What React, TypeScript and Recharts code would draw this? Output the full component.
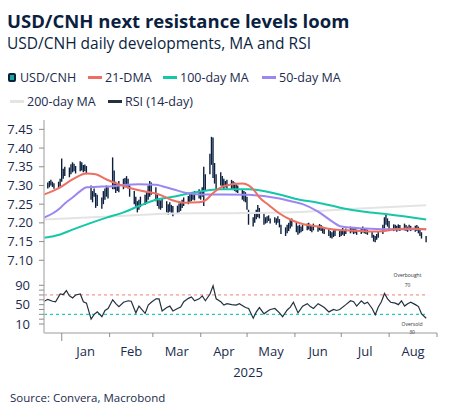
import React from 'react';
import { ComposedChart, Bar, Line, XAxis, YAxis, ReferenceLine } from 'recharts';

// days are counted from 1 Jan 2025 (day 0)
const firstTradingDay = -12;

// daily USD/CNH low / high, one row per week (Mon..Fri)
const priceLow = [
  7.296,
  7.292, 7.295, 7.300, 7.296, 7.291,
  7.293, 7.298, 7.310, 7.318, 7.325,
  7.322, 7.330, 7.335, 7.338, 7.332,
  7.338, 7.340, 7.335, 7.338, 7.330,
  7.262, 7.255, 7.270, 7.240, 7.245,
  7.238, 7.250, 7.262, 7.270, 7.265,
  7.290, 7.290, 7.280, 7.285, 7.282,
  7.290, 7.295, 7.300, 7.292, 7.270,
  7.250, 7.240, 7.228, 7.235, 7.242,
  7.248, 7.255, 7.262, 7.270, 7.275,
  7.258, 7.245, 7.238, 7.235, 7.240,
  7.228, 7.222, 7.230, 7.225, 7.218,
  7.225, 7.228, 7.232, 7.240, 7.245,
  7.250, 7.255, 7.258, 7.262, 7.260,
  7.265, 7.262, 7.270, 7.245, 7.285,
  7.330, 7.355, 7.320, 7.305, 7.290,
  7.300, 7.295, 7.290, 7.295, 7.292,
  7.290, 7.288, 7.285, 7.282, 7.280,
  7.262, 7.258, 7.255, 7.235, 7.195,
  7.190, 7.200, 7.210, 7.215, 7.212,
  7.195, 7.198, 7.200, 7.205, 7.198,
  7.200, 7.195, 7.200, 7.188, 7.170,
  7.165, 7.172, 7.178, 7.185, 7.190,
  7.175, 7.168, 7.172, 7.175, 7.178,
  7.180, 7.182, 7.178, 7.175, 7.180,
  7.176, 7.180, 7.178, 7.172, 7.170,
  7.165, 7.160, 7.158, 7.162, 7.165,
  7.162, 7.165, 7.168, 7.165, 7.170,
  7.172, 7.175, 7.170, 7.172, 7.168,
  7.170, 7.174, 7.172, 7.170, 7.168,
  7.160, 7.150, 7.148, 7.155, 7.160,
  7.170, 7.185, 7.195, 7.190, 7.180,
  7.178, 7.180, 7.176, 7.180, 7.178,
  7.180, 7.178, 7.176, 7.180, 7.178,
  7.176, 7.178, 7.172, 7.165, 7.158,
  7.148,
];
const priceHigh = [
  7.312,
  7.308, 7.312, 7.315, 7.310, 7.306,
  7.310, 7.318, 7.372, 7.345, 7.350,
  7.348, 7.357, 7.362, 7.358, 7.352,
  7.365, 7.362, 7.355, 7.356, 7.352,
  7.300, 7.285, 7.292, 7.280, 7.275,
  7.268, 7.285, 7.292, 7.300, 7.295,
  7.375, 7.340, 7.310, 7.305, 7.312,
  7.318, 7.320, 7.325, 7.318, 7.300,
  7.285, 7.270, 7.258, 7.262, 7.270,
  7.275, 7.282, 7.300, 7.312, 7.308,
  7.295, 7.275, 7.262, 7.260, 7.265,
  7.258, 7.250, 7.255, 7.248, 7.245,
  7.246, 7.252, 7.255, 7.262, 7.268,
  7.272, 7.278, 7.280, 7.282, 7.285,
  7.290, 7.285, 7.295, 7.350, 7.330,
  7.385, 7.430, 7.428, 7.360, 7.330,
  7.335, 7.325, 7.318, 7.312, 7.315,
  7.315, 7.312, 7.308, 7.305, 7.300,
  7.290, 7.285, 7.282, 7.270, 7.235,
  7.215, 7.228, 7.235, 7.248, 7.240,
  7.225, 7.215, 7.218, 7.220, 7.212,
  7.215, 7.212, 7.218, 7.210, 7.195,
  7.188, 7.195, 7.200, 7.210, 7.212,
  7.200, 7.192, 7.195, 7.190, 7.195,
  7.198, 7.200, 7.195, 7.192, 7.198,
  7.192, 7.197, 7.194, 7.190, 7.186,
  7.185, 7.178, 7.175, 7.180, 7.182,
  7.178, 7.182, 7.186, 7.180, 7.185,
  7.190, 7.188, 7.185, 7.187, 7.182,
  7.186, 7.190, 7.186, 7.184, 7.182,
  7.178, 7.168, 7.165, 7.170, 7.178,
  7.195, 7.215, 7.225, 7.212, 7.205,
  7.196, 7.195, 7.192, 7.196, 7.194,
  7.198, 7.194, 7.190, 7.195, 7.192,
  7.192, 7.194, 7.190, 7.185, 7.175,
  7.165,
];

const ma21Days = [-12, -6, -1, 7, 16, 22, 29, 37, 47, 55, 63, 72, 79, 89, 93, 98, 104, 110, 117, 121, 125, 128, 134, 141, 149, 156, 166, 175, 184, 195, 205, 215, 225, 236];
const ma21 = [7.275, 7.285, 7.295, 7.316, 7.332, 7.330, 7.316, 7.303, 7.290, 7.283, 7.276, 7.260, 7.254, 7.255, 7.260, 7.280, 7.297, 7.303, 7.305, 7.300, 7.285, 7.268, 7.248, 7.225, 7.207, 7.197, 7.190, 7.183, 7.180, 7.178, 7.177, 7.182, 7.185, 7.183];

const ma50Days = [-12, -6, -1, 2, 7, 12, 16, 26, 33, 42, 50, 61, 65, 72, 82, 89, 103, 121, 141, 149, 156, 166, 175, 181, 196, 210, 236];
const ma50 = [7.213, 7.225, 7.240, 7.252, 7.268, 7.285, 7.295, 7.297, 7.298, 7.302, 7.303, 7.302, 7.298, 7.290, 7.279, 7.276, 7.276, 7.275, 7.265, 7.257, 7.250, 7.230, 7.204, 7.190, 7.185, 7.183, 7.183];

const ma100Days = [-12, -1, 7, 19, 29, 40, 50, 61, 72, 83, 103, 121, 141, 154, 166, 181, 196, 211, 236];
const ma100 = [7.160, 7.169, 7.182, 7.200, 7.214, 7.228, 7.245, 7.262, 7.270, 7.279, 7.290, 7.290, 7.276, 7.262, 7.254, 7.240, 7.230, 7.223, 7.209];

const ma200Days = [-12, 20, 50, 72, 110, 154, 190, 236];
const ma200 = [7.209, 7.215, 7.221, 7.225, 7.226, 7.229, 7.238, 7.247];

const rsiDays = [-12, -9, -6, -4, -1, 1, 3, 5, 7, 9, 12, 14, 16, 19, 21, 23, 26, 28, 30, 33, 35, 37, 40, 43, 45, 48, 50, 54, 56, 58, 61, 63, 65, 68, 70, 72, 75, 77, 79, 82, 84, 86, 89, 91, 93, 96, 98, 100, 103, 105, 107, 110, 113, 115, 119, 121, 124, 126, 128, 131, 133, 135, 138, 141, 143, 146, 148, 150, 153, 156, 159, 161, 163, 166, 168, 170, 173, 176, 178, 180, 184, 187, 189, 191, 194, 196, 198, 201, 203, 205, 207, 209, 211, 213, 216, 218, 220, 222, 224, 226, 229, 231, 233, 236];
const rsi = [56, 61, 57, 56, 72, 71, 79, 68, 64, 70, 72, 56, 53, 20, 30, 35, 25, 38, 42, 60, 52, 46, 55, 58, 57, 33, 47, 32, 49, 55, 62, 62, 37, 44, 47, 37, 42, 45, 56, 63, 66, 58, 62, 68, 58, 72, 89, 62, 56, 49, 52, 50, 49, 52, 44, 42, 22, 35, 44, 31, 36, 40, 42, 33, 25, 39, 45, 55, 33, 47, 52, 46, 42, 52, 48, 44, 35, 40, 38, 40, 50, 58, 56, 47, 58, 52, 55, 42, 29, 45, 56, 73, 62, 55, 53, 50, 58, 47, 52, 55, 50, 46, 31, 22];

const monthTicks = [0, 31, 59, 90, 120, 151, 181, 212, 243];
const monthLabels = ['Jan', 'Feb', 'Mar', 'Apr', 'May', 'Jun', 'Jul', 'Aug'];
const priceTicks = [7.1, 7.15, 7.2, 7.25, 7.3, 7.35, 7.4, 7.45];
const rsiTicks = [10, 20, 30, 40, 50, 60, 70, 80, 90];
const rsiLabelled = [10, 50, 90];

const X_DOMAIN: [number, number] = [-11.5, 243];
const PLOT_W = 393;
const PX_PER_DAY = PLOT_W / (X_DOMAIN[1] - X_DOMAIN[0]);

const FONT = '"Open Sans", sans-serif';
const NAVY = '#0b1f3f';
const TEXT = '#1b2b4d';
const AXIS = '#bdbdbd';
const C21 = '#ee6f60';
const C100 = '#14c7a8';
const C50 = '#9c86f2';
const C200 = '#e4e4e4';
const CRSI = '#23303f';

const tradingDays: number[] = [];
for (let d = firstTradingDay; tradingDays.length < priceLow.length; d++) {
  const w = ((d % 7) + 7) % 7;
  if (w !== 3 && w !== 4) tradingDays.push(d);
}

const priceRows: any[] = tradingDays.map((d, i) => ({ d, range: [priceLow[i], priceHigh[i]] }));
const addSeries = (days: number[], values: number[], key: string) => {
  days.forEach((d, i) => {
    const row = priceRows.find((r) => r.d === d);
    if (row) row[key] = values[i];
  });
};
addSeries(ma21Days, ma21, 'ma21');
addSeries(ma50Days, ma50, 'ma50');
addSeries(ma100Days, ma100, 'ma100');
addSeries(ma200Days, ma200, 'ma200');

const rsiRows = rsiDays.map((d, i) => ({ d, rsi: rsi[i] }));

const MonthTick = (props: any) => {
  const { x, y, payload } = props;
  const i = monthTicks.indexOf(payload.value);
  const axisY = y - 14;
  const label = monthLabels[i];
  const mid = i < monthTicks.length - 1 ? x + ((monthTicks[i + 1] - monthTicks[i]) / 2) * PX_PER_DAY : x;
  return (
    <g>
      <line x1={x} x2={x} y1={axisY} y2={axisY + (i === 0 ? 8 : 4)} stroke="#8c8c8c" />
      {label && (
        <text x={mid} y={y} dy="0.71em" textAnchor="middle" fill={TEXT} fontSize={13} fontFamily={FONT}>
          {label}
        </text>
      )}
    </g>
  );
};

const LegendItem = ({ left, top, color, label, marker }: any) => (
  <div style={{ position: 'absolute', left, top, height: 16, lineHeight: '16px', fontSize: 12.5, color: TEXT, whiteSpace: 'nowrap' }}>
    {marker ? (
      <span style={{ display: 'inline-block', width: 4, height: 5, background: '#1aa59a', border: '2px solid #0b1f3f', borderRadius: 2, verticalAlign: 'middle', marginRight: 4, marginTop: -2 }} />
    ) : (
      <span style={{ display: 'inline-block', width: 14, height: 2.5, background: color, verticalAlign: 'middle', marginRight: 3, marginTop: -2 }} />
    )}
    {label}
  </div>
);

export default function App() {
  return (
    <div style={{ position: 'absolute', left: 0, top: 0, width: 453, height: 417, background: '#fff', fontFamily: FONT, overflow: 'hidden' }}>
      <div style={{ position: 'absolute', left: 7, top: 11, fontSize: 18.5, lineHeight: '20px', fontWeight: 700, color: NAVY, whiteSpace: 'nowrap' }}>
        USD/CNH next resistance levels loom
      </div>
      <div style={{ position: 'absolute', left: 7, top: 35, fontSize: 15.5, lineHeight: '17px', color: NAVY, whiteSpace: 'nowrap' }}>
        USD/CNH daily developments, MA and RSI
      </div>

      <LegendItem left={8} top={70} marker label="USD/CNH" />
      <LegendItem left={88} top={70} color={C21} label="21-DMA" />
      <LegendItem left={163} top={70} color={C100} label="100-day MA" />
      <LegendItem left={262} top={70} color={C50} label="50-day MA" />
      <LegendItem left={10} top={94} color={C200} label="200-day MA" />
      <LegendItem left={108} top={94} color={CRSI} label="RSI (14-day)" />

      <div style={{ position: 'absolute', left: 0, top: 110 }}>
        <ComposedChart width={453} height={160} data={priceRows} margin={{ top: 10, right: 16, bottom: 0, left: 0 }}>
          <XAxis dataKey="d" type="number" domain={X_DOMAIN} allowDataOverflow ticks={monthTicks} tick={false} tickLine={false} height={0} axisLine={{ stroke: AXIS, strokeWidth: 1.5 }} />
          <YAxis
            type="number"
            domain={[7.074, 7.475]}
            allowDataOverflow
            ticks={priceTicks}
            interval={0}
            width={44}
            tickSize={5}
            tickMargin={6}
            tickFormatter={(v: number) => v.toFixed(2)}
            tick={{ fill: TEXT, fontSize: 13, fontFamily: FONT }}
            axisLine={{ stroke: AXIS, strokeWidth: 1.5 }}
            tickLine={{ stroke: '#8c8c8c' }}
          />
          <Line dataKey="ma200" type="monotone" stroke={C200} strokeWidth={2} dot={false} connectNulls isAnimationActive={false} />
          <Line dataKey="ma100" type="monotone" stroke={C100} strokeWidth={2} dot={false} connectNulls isAnimationActive={false} />
          <Line dataKey="ma50" type="monotone" stroke={C50} strokeWidth={2} dot={false} connectNulls isAnimationActive={false} />
          <Bar dataKey="range" fill={NAVY} barSize={2} isAnimationActive={false} />
          <Line dataKey="ma21" type="monotone" stroke={C21} strokeWidth={2} dot={false} connectNulls isAnimationActive={false} />
        </ComposedChart>
      </div>

      <div style={{ position: 'absolute', left: 0, top: 270 }}>
        <ComposedChart width={453} height={90} data={rsiRows} margin={{ top: 0, right: 16, bottom: 0, left: 0 }}>
          <XAxis
            dataKey="d"
            type="number"
            domain={X_DOMAIN}
            allowDataOverflow
            ticks={monthTicks}
            interval={0}
            height={27}
            tickSize={4}
            tickMargin={10}
            tickLine={false}
            tick={<MonthTick />}
            axisLine={{ stroke: AXIS, strokeWidth: 1.5 }}
          />
          <YAxis
            type="number"
            domain={[-8.6, 121.6]}
            allowDataOverflow
            ticks={rsiTicks}
            interval={0}
            width={44}
            tickSize={5}
            tickMargin={9}
            tickFormatter={(v: number) => (rsiLabelled.includes(v) ? String(v) : '')}
            tick={{ fill: TEXT, fontSize: 13, fontFamily: FONT }}
            axisLine={{ stroke: AXIS, strokeWidth: 1.5 }}
            tickLine={{ stroke: '#8c8c8c' }}
          />
          <ReferenceLine segment={[{ x: -11.5, y: 70 }, { x: 236, y: 70 }]} stroke="#f29a90" strokeDasharray="3 3" strokeWidth={1.3} />
          <ReferenceLine segment={[{ x: -11.5, y: 30 }, { x: 236, y: 30 }]} stroke="#22cdb8" strokeDasharray="3 3" strokeWidth={1.3} />
          <Line dataKey="rsi" type="linear" stroke={CRSI} strokeWidth={1.2} dot={false} isAnimationActive={false} />
        </ComposedChart>
      </div>

      <div style={{ position: 'absolute', left: 385, top: 272, fontSize: 5, lineHeight: '6px', color: '#333', width: 45, textAlign: 'center' }}>Overbought</div>
      <div style={{ position: 'absolute', left: 385, top: 282, fontSize: 5, lineHeight: '6px', color: '#333', width: 45, textAlign: 'center' }}>70</div>
      <div style={{ position: 'absolute', left: 392, top: 321, fontSize: 5, lineHeight: '6px', color: '#333', width: 40, textAlign: 'center' }}>Oversold</div>
      <div style={{ position: 'absolute', left: 392, top: 329, fontSize: 5, lineHeight: '6px', color: '#333', width: 40, textAlign: 'center' }}>30</div>

      <div style={{ position: 'absolute', left: 218, top: 363, width: 60, textAlign: 'center', fontSize: 13, lineHeight: '18px', color: TEXT }}>2025</div>
      <div style={{ position: 'absolute', left: 10, top: 390, fontSize: 11.5, lineHeight: '16px', color: TEXT, whiteSpace: 'nowrap' }}>Source: Convera, Macrobond</div>
    </div>
  );
}
